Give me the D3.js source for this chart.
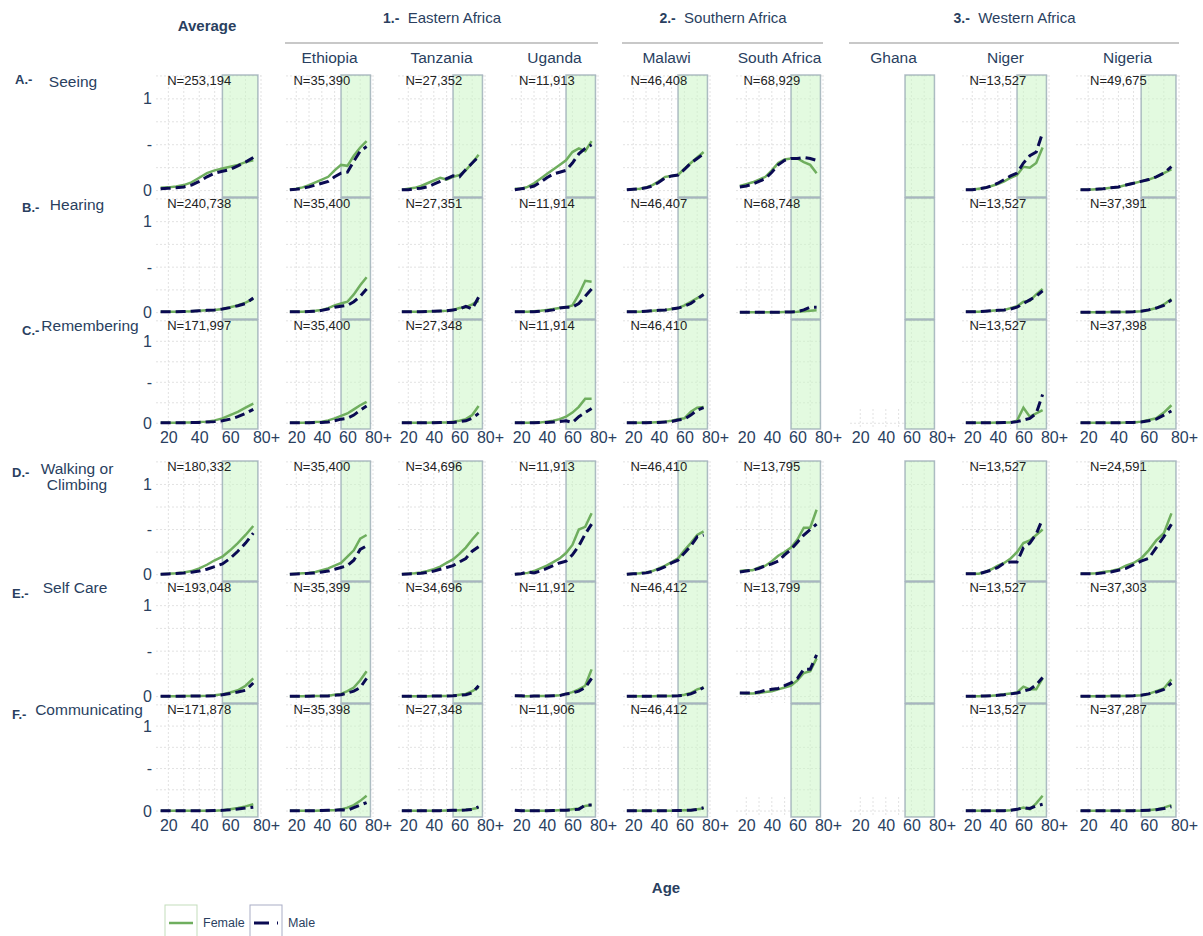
<!DOCTYPE html>
<html>
<head>
<meta charset="utf-8">
<script src="https://cdn.jsdelivr.net/npm/d3@7"></script>
<style>
  body { margin: 0; background: #fff; }
  text { font-family: "Liberation Sans", Arial, sans-serif; }
</style>
</head>
<body>
<div class="chart"></div>
<script>
// age group midpoints (15-19 ... 75+)
const ages = [15, 20, 25, 30, 35, 40, 45, 50, 55, 60, 65, 70, 75];
const columns = ["Average", "Ethiopia", "Tanzania", "Uganda", "Malawi", "South Africa", "Ghana", "Niger", "Nigeria"];
const regions = [
  { num: "1.-", name: "Eastern Africa", from: 1, to: 3 },
  { num: "2.-", name: "Southern Africa", from: 4, to: 5 },
  { num: "3.-", name: "Western Africa", from: 6, to: 8 }
];
const rowLetters = ["A.-", "B.-", "C.-", "D.-", "E.-", "F.-"];
const domains = [["Seeing"], ["Hearing"], ["Remembering"], ["Walking or", "Climbing"], ["Self Care"], ["Communicating"]];
const xTicks = [20, 40, 60, 80];
const yTicks = [0, 0.5, 1];

const sampleSizes = [
  ["253,194", "35,390", "27,352", "11,913", "46,408", "68,929", null, "13,527", "49,675"],
  ["240,738", "35,400", "27,351", "11,914", "46,407", "68,748", null, "13,527", "37,391"],
  ["171,997", "35,400", "27,348", "11,914", "46,410", null, null, "13,527", "37,398"],
  ["180,332", "35,400", "34,696", "11,913", "46,410", "13,795", null, "13,527", "24,591"],
  ["193,048", "35,399", "34,696", "11,912", "46,412", "13,799", null, "13,527", "37,303"],
  ["171,878", "35,398", "27,348", "11,906", "46,412", null, null, "13,527", "37,287"]
];

// share with difficulty, one array per column (null = no data)
const seeingFemale = [
  [0.03, 0.035, 0.045, 0.06, 0.09, 0.14, 0.19, 0.22, 0.24, 0.26, 0.28, 0.31, 0.33],
  [0.01, 0.02, 0.035, 0.06, 0.09, 0.12, 0.15, 0.22, 0.28, 0.27, 0.38, 0.47, 0.54],
  [0.01, 0.02, 0.03, 0.05, 0.08, 0.11, 0.14, 0.12, 0.15, 0.17, 0.22, 0.3, 0.39],
  [0.02, 0.02, 0.04, 0.08, 0.13, 0.18, 0.23, 0.28, 0.33, 0.42, 0.46, 0.43, 0.54],
  [0.01, 0.015, 0.02, 0.035, 0.06, 0.1, 0.15, 0.16, 0.17, 0.24, 0.3, 0.36, 0.42],
  [0.05, 0.07, 0.09, 0.12, 0.15, 0.22, 0.3, 0.34, 0.35, 0.35, 0.31, 0.28, 0.19],
  null,
  [0.01, 0.01, 0.02, 0.03, 0.05, 0.07, 0.1, 0.14, 0.17, 0.26, 0.25, 0.3, 0.47],
  [0.01, 0.01, 0.015, 0.02, 0.03, 0.04, 0.06, 0.08, 0.1, 0.12, 0.15, 0.19, 0.23]
];
const seeingMale = [
  [0.02, 0.025, 0.03, 0.04, 0.06, 0.1, 0.15, 0.19, 0.21, 0.23, 0.27, 0.31, 0.36],
  [0.01, 0.015, 0.025, 0.04, 0.06, 0.08, 0.1, 0.15, 0.19, 0.2, 0.32, 0.43, 0.48],
  [0.01, 0.01, 0.02, 0.025, 0.04, 0.07, 0.1, 0.13, 0.16, 0.15, 0.23, 0.3, 0.37],
  [0.01, 0.02, 0.03, 0.05, 0.09, 0.14, 0.18, 0.2, 0.22, 0.3, 0.4, 0.46, 0.5],
  [0.01, 0.015, 0.02, 0.03, 0.05, 0.09, 0.14, 0.16, 0.17, 0.23, 0.3, 0.35, 0.4],
  [0.04, 0.05, 0.07, 0.1, 0.13, 0.2, 0.28, 0.33, 0.35, 0.35, 0.36, 0.35, 0.33],
  null,
  [0.01, 0.01, 0.02, 0.03, 0.05, 0.08, 0.12, 0.16, 0.19, 0.3, 0.38, 0.42, 0.63],
  [0.01, 0.01, 0.015, 0.02, 0.03, 0.04, 0.06, 0.08, 0.1, 0.12, 0.15, 0.19, 0.26]
];
const hearingFemale = [
  [0.01, 0.01, 0.01, 0.012, 0.015, 0.02, 0.025, 0.03, 0.04, 0.06, 0.08, 0.11, 0.15],
  [0.01, 0.01, 0.01, 0.015, 0.02, 0.03, 0.05, 0.08, 0.1, 0.12, 0.2, 0.3, 0.39],
  [0.01, 0.01, 0.01, 0.01, 0.012, 0.015, 0.018, 0.02, 0.03, 0.05, 0.06, 0.09, 0.13],
  [0.01, 0.01, 0.01, 0.015, 0.02, 0.03, 0.04, 0.05, 0.06, 0.08, 0.2, 0.35, 0.34],
  [0.01, 0.01, 0.01, 0.015, 0.02, 0.025, 0.03, 0.04, 0.05, 0.08, 0.12, 0.16, 0.2],
  [0.005, 0.005, 0.005, 0.005, 0.005, 0.005, 0.005, 0.006, 0.008, 0.01, 0.015, 0.02, 0.025],
  null,
  [0.01, 0.01, 0.01, 0.015, 0.02, 0.025, 0.03, 0.05, 0.07, 0.12, 0.13, 0.2, 0.26],
  [0.005, 0.005, 0.005, 0.005, 0.006, 0.007, 0.008, 0.01, 0.015, 0.03, 0.05, 0.09, 0.15]
];
const hearingMale = [
  [0.01, 0.01, 0.01, 0.012, 0.015, 0.02, 0.025, 0.03, 0.04, 0.055, 0.075, 0.1, 0.16],
  [0.01, 0.01, 0.01, 0.012, 0.015, 0.025, 0.04, 0.06, 0.07, 0.08, 0.12, 0.18, 0.26],
  [0.01, 0.01, 0.01, 0.01, 0.012, 0.015, 0.018, 0.02, 0.03, 0.04, 0.07, 0.04, 0.17],
  [0.01, 0.01, 0.01, 0.01, 0.015, 0.02, 0.03, 0.05, 0.06, 0.06, 0.1, 0.18, 0.26],
  [0.01, 0.01, 0.01, 0.015, 0.02, 0.025, 0.03, 0.04, 0.05, 0.07, 0.1, 0.15, 0.2],
  [0.005, 0.005, 0.005, 0.005, 0.005, 0.005, 0.005, 0.006, 0.008, 0.01, 0.03, 0.06, 0.06],
  null,
  [0.01, 0.01, 0.01, 0.015, 0.02, 0.025, 0.03, 0.04, 0.06, 0.1, 0.14, 0.18, 0.24],
  [0.005, 0.005, 0.005, 0.005, 0.006, 0.007, 0.008, 0.01, 0.015, 0.03, 0.05, 0.08, 0.14]
];
const rememberingFemale = [
  [0.005, 0.005, 0.005, 0.008, 0.01, 0.015, 0.02, 0.035, 0.06, 0.1, 0.14, 0.19, 0.24],
  [0.005, 0.005, 0.005, 0.01, 0.015, 0.02, 0.035, 0.06, 0.09, 0.12, 0.17, 0.22, 0.26],
  [0.005, 0.005, 0.005, 0.005, 0.007, 0.008, 0.01, 0.01, 0.02, 0.03, 0.05, 0.1, 0.21],
  [0.005, 0.005, 0.005, 0.01, 0.01, 0.02, 0.03, 0.05, 0.08, 0.13, 0.2, 0.3, 0.3],
  [0.005, 0.005, 0.005, 0.008, 0.01, 0.015, 0.02, 0.03, 0.05, 0.06, 0.14, 0.19, 0.2],
  null,
  null,
  [0.005, 0.005, 0.005, 0.005, 0.007, 0.008, 0.01, 0.01, 0.03, 0.19, 0.08, 0.12, 0.16],
  [0.005, 0.005, 0.005, 0.005, 0.006, 0.007, 0.008, 0.01, 0.02, 0.04, 0.06, 0.13, 0.22]
];
const rememberingMale = [
  [0.005, 0.005, 0.005, 0.006, 0.008, 0.01, 0.015, 0.02, 0.03, 0.05, 0.08, 0.12, 0.17],
  [0.005, 0.005, 0.005, 0.006, 0.008, 0.01, 0.015, 0.03, 0.05, 0.06, 0.1, 0.16, 0.21],
  [0.005, 0.005, 0.005, 0.005, 0.006, 0.007, 0.008, 0.01, 0.01, 0.02, 0.03, 0.06, 0.12],
  [0.005, 0.005, 0.005, 0.006, 0.008, 0.01, 0.015, 0.02, 0.03, 0.01, 0.08, 0.13, 0.18],
  [0.005, 0.005, 0.005, 0.006, 0.008, 0.01, 0.015, 0.02, 0.04, 0.05, 0.1, 0.16, 0.19],
  null,
  null,
  [0.005, 0.005, 0.005, 0.005, 0.006, 0.007, 0.008, 0.01, 0.02, 0.04, 0.06, 0.12, 0.35],
  [0.005, 0.005, 0.005, 0.005, 0.006, 0.007, 0.008, 0.01, 0.015, 0.03, 0.05, 0.1, 0.15]
];
const walkingFemale = [
  [0.005, 0.01, 0.015, 0.025, 0.04, 0.07, 0.11, 0.16, 0.2, 0.27, 0.35, 0.44, 0.54],
  [0.005, 0.01, 0.015, 0.02, 0.03, 0.05, 0.07, 0.1, 0.13, 0.2, 0.27, 0.4, 0.44],
  [0.005, 0.01, 0.015, 0.025, 0.04, 0.06, 0.09, 0.13, 0.17, 0.23, 0.3, 0.39, 0.47],
  [0.005, 0.01, 0.02, 0.04, 0.07, 0.1, 0.14, 0.18, 0.24, 0.33, 0.5, 0.53, 0.68],
  [0.005, 0.01, 0.015, 0.025, 0.04, 0.07, 0.1, 0.14, 0.18, 0.27, 0.35, 0.44, 0.48],
  [0.04, 0.05, 0.05, 0.08, 0.1, 0.15, 0.21, 0.25, 0.3, 0.39, 0.52, 0.52, 0.72],
  null,
  [0.01, 0.01, 0.01, 0.03, 0.06, 0.1, 0.13, 0.18, 0.25, 0.35, 0.38, 0.44, 0.5],
  [0.01, 0.01, 0.015, 0.03, 0.04, 0.06, 0.1, 0.13, 0.18, 0.27, 0.38, 0.46, 0.68]
];
const walkingMale = [
  [0.005, 0.008, 0.012, 0.018, 0.028, 0.04, 0.06, 0.09, 0.12, 0.18, 0.26, 0.35, 0.46],
  [0.005, 0.008, 0.01, 0.015, 0.02, 0.03, 0.04, 0.06, 0.08, 0.1, 0.16, 0.28, 0.32],
  [0.005, 0.008, 0.01, 0.015, 0.025, 0.04, 0.06, 0.08, 0.1, 0.14, 0.18, 0.26, 0.31],
  [0.005, 0.01, 0.03, 0.02, 0.04, 0.07, 0.1, 0.13, 0.15, 0.22, 0.32, 0.45, 0.56],
  [0.005, 0.01, 0.012, 0.02, 0.035, 0.06, 0.09, 0.13, 0.16, 0.24, 0.32, 0.42, 0.44],
  [0.03, 0.04, 0.05, 0.07, 0.1, 0.12, 0.15, 0.22, 0.28, 0.36, 0.44, 0.5, 0.56],
  null,
  [0.01, 0.01, 0.01, 0.03, 0.05, 0.08, 0.13, 0.14, 0.14, 0.3, 0.35, 0.45, 0.62],
  [0.01, 0.01, 0.01, 0.02, 0.03, 0.05, 0.07, 0.11, 0.15, 0.18, 0.3, 0.42, 0.56]
];
const selfCareFemale = [
  [0.005, 0.005, 0.005, 0.006, 0.007, 0.008, 0.01, 0.015, 0.025, 0.045, 0.07, 0.12, 0.2],
  [0.005, 0.005, 0.005, 0.006, 0.007, 0.008, 0.01, 0.02, 0.03, 0.06, 0.1, 0.18, 0.28],
  [0.005, 0.005, 0.005, 0.005, 0.005, 0.006, 0.007, 0.008, 0.01, 0.02, 0.03, 0.06, 0.1],
  [0.01, 0.005, 0.005, 0.006, 0.007, 0.008, 0.01, 0.015, 0.03, 0.05, 0.08, 0.12, 0.3],
  [0.005, 0.005, 0.005, 0.005, 0.005, 0.006, 0.007, 0.008, 0.01, 0.02, 0.04, 0.08, 0.1],
  [0.04, 0.035, 0.035, 0.04, 0.05, 0.06, 0.08, 0.1, 0.12, 0.18, 0.26, 0.28, 0.42],
  null,
  [0.005, 0.005, 0.005, 0.008, 0.01, 0.015, 0.025, 0.035, 0.045, 0.11, 0.08, 0.08, 0.2],
  [0.005, 0.005, 0.005, 0.005, 0.006, 0.007, 0.008, 0.01, 0.015, 0.03, 0.06, 0.09, 0.19]
];
const selfCareMale = [
  [0.005, 0.005, 0.005, 0.005, 0.006, 0.007, 0.008, 0.01, 0.02, 0.035, 0.05, 0.07, 0.15],
  [0.005, 0.005, 0.005, 0.005, 0.006, 0.007, 0.008, 0.015, 0.02, 0.04, 0.06, 0.1, 0.2],
  [0.005, 0.005, 0.005, 0.005, 0.005, 0.006, 0.007, 0.008, 0.01, 0.015, 0.02, 0.04, 0.12],
  [0.01, 0.01, 0.005, 0.006, 0.007, 0.008, 0.009, 0.01, 0.03, 0.04, 0.06, 0.1, 0.2],
  [0.005, 0.005, 0.005, 0.005, 0.005, 0.006, 0.007, 0.008, 0.01, 0.015, 0.03, 0.06, 0.1],
  [0.04, 0.04, 0.04, 0.05, 0.07, 0.08, 0.09, 0.12, 0.15, 0.2, 0.3, 0.3, 0.46],
  null,
  [0.005, 0.005, 0.005, 0.008, 0.01, 0.015, 0.02, 0.03, 0.04, 0.06, 0.08, 0.13, 0.21],
  [0.005, 0.005, 0.005, 0.005, 0.006, 0.007, 0.008, 0.01, 0.015, 0.03, 0.05, 0.08, 0.15]
];
const communicatingFemale = [
  [0.005, 0.005, 0.005, 0.005, 0.005, 0.005, 0.005, 0.005, 0.01, 0.02, 0.035, 0.055, 0.08],
  [0.005, 0.005, 0.005, 0.005, 0.005, 0.006, 0.008, 0.01, 0.02, 0.04, 0.07, 0.12, 0.18],
  [0.005, 0.005, 0.005, 0.005, 0.005, 0.005, 0.005, 0.006, 0.008, 0.01, 0.015, 0.025, 0.04],
  [0.01, 0.005, 0.005, 0.005, 0.005, 0.005, 0.006, 0.008, 0.01, 0.02, 0.03, 0.06, 0.07],
  [0.005, 0.005, 0.005, 0.005, 0.005, 0.005, 0.005, 0.005, 0.006, 0.008, 0.01, 0.02, 0.03],
  null,
  null,
  [0.005, 0.005, 0.005, 0.005, 0.005, 0.005, 0.005, 0.01, 0.02, 0.04, 0.02, 0.09, 0.18],
  [0.005, 0.005, 0.005, 0.005, 0.005, 0.005, 0.005, 0.005, 0.005, 0.01, 0.02, 0.04, 0.07]
];
const communicatingMale = [
  [0.005, 0.005, 0.005, 0.005, 0.005, 0.005, 0.005, 0.006, 0.008, 0.015, 0.025, 0.035, 0.045],
  [0.005, 0.005, 0.005, 0.005, 0.005, 0.006, 0.008, 0.01, 0.015, 0.01, 0.04, 0.07, 0.1],
  [0.005, 0.005, 0.005, 0.005, 0.005, 0.005, 0.005, 0.006, 0.008, 0.01, 0.012, 0.02, 0.05],
  [0.01, 0.005, 0.005, 0.005, 0.005, 0.005, 0.006, 0.008, 0.01, 0.015, 0.02, 0.07, 0.07],
  [0.005, 0.005, 0.005, 0.005, 0.005, 0.005, 0.005, 0.005, 0.006, 0.008, 0.01, 0.02, 0.04],
  null,
  null,
  [0.005, 0.005, 0.005, 0.005, 0.005, 0.005, 0.005, 0.01, 0.02, 0.04, 0.03, 0.06, 0.08],
  [0.005, 0.005, 0.005, 0.005, 0.005, 0.005, 0.005, 0.005, 0.006, 0.01, 0.015, 0.03, 0.05]
];

const femaleRows = [seeingFemale, hearingFemale, rememberingFemale, walkingFemale, selfCareFemale, communicatingFemale];
const maleRows = [seeingMale, hearingMale, rememberingMale, walkingMale, selfCareMale, communicatingMale];

// layout
const textColor = "#2a3f5f";
const femaleColor = "#6fae5e";
const maleColor = "#0a0a52";
const colLeft = [156, 286, 398, 511, 623, 736, 850, 962, 1076];
const colWidth = [105, 87, 87, 87, 87, 87, 87, 87, 103];
const rowBox = [[75, 197], [198, 319], [320, 429], [461, 581], [582, 703], [704, 817]];
const axisRows = [2, 5];
// empty panels that still show a strip of grid at the bottom
const gridStubs = [[2, 6], [5, 5], [5, 6]];

const svg = d3.select(".chart")
  .append("svg")
  .attr("width", 1203)
  .attr("height", 936);

const xScales = columns.map((c, i) => d3.scaleLinear().domain([12, 80]).range([colLeft[i], colLeft[i] + colWidth[i]]));
const yScales = rowBox.map(r => d3.scaleLinear().domain([-0.07, 1.26]).range([r[1], r[0]]));

function drawGrid(g, x, y, x0, x1, y0, y1) {
  const xs = d3.range(20, 81, 10).filter(v => x(v) >= x0 && x(v) <= x1);
  const ys = d3.range(0, 1.3, 0.25).filter(v => y(v) >= y0 && y(v) <= y1);
  g.selectAll(null).data(xs).enter().append("line")
    .attr("x1", d => x(d)).attr("x2", d => x(d))
    .attr("y1", y0).attr("y2", y1);
  g.selectAll(null).data(ys).enter().append("line")
    .attr("x1", x0).attr("x2", x1)
    .attr("y1", d => y(d)).attr("y2", d => y(d));
  g.selectAll("line")
    .attr("stroke", "#e2e2e2")
    .attr("stroke-width", 1)
    .attr("stroke-dasharray", "2,2");
}

const line = (x, y) => d3.line()
  .x((d, i) => x(ages[i]))
  .y(d => y(d));

rowBox.forEach((r, ri) => {
  const y = yScales[ri];
  columns.forEach((c, ci) => {
    const x = xScales[ci];
    const g = svg.append("g");
    const fem = femaleRows[ri][ci];
    const mal = maleRows[ri][ci];
    const hasData = fem != null;
    const gx0 = x(55), gx1 = x(78);

    const grid = g.append("g");
    if (hasData) {
      drawGrid(grid, x, y, x(12), x(80), r[0], r[1]);
    } else {
      drawGrid(grid, x, y, gx0, gx1, r[0], r[1]);
      if (gridStubs.some(s => s[0] === ri && s[1] === ci)) {
        drawGrid(g.append("g"), x, y, x(12), gx0, r[1] - 20, r[1]);
      }
    }

    // older-age shading
    g.append("rect")
      .attr("x", gx0)
      .attr("y", r[0])
      .attr("width", gx1 - gx0)
      .attr("height", r[1] - r[0])
      .attr("fill", "#ccf5c6")
      .attr("fill-opacity", 0.55)
      .attr("stroke", "#8e9fae")
      .attr("stroke-opacity", 0.7)
      .attr("stroke-width", 1.5);

    if (hasData) {
      g.append("path")
        .attr("d", line(x, y)(fem))
        .attr("fill", "none")
        .attr("stroke", femaleColor)
        .attr("stroke-width", 2.5);
      g.append("path")
        .attr("d", line(x, y)(mal))
        .attr("fill", "none")
        .attr("stroke", maleColor)
        .attr("stroke-width", 3)
        .attr("stroke-dasharray", "10,5");
    }

    if (sampleSizes[ri][ci]) {
      g.append("text")
        .attr("x", x(40))
        .attr("y", r[0] + 10)
        .attr("text-anchor", "middle")
        .attr("font-size", 13)
        .attr("fill", "#222")
        .text("N=" + sampleSizes[ri][ci]);
    }

    if (ci === 0) {
      const ya = g.append("g")
        .attr("transform", `translate(${x(12)},0)`)
        .call(d3.axisLeft(y).tickValues(yTicks).tickSize(0).tickPadding(4)
          .tickFormat(d => d === 0.5 ? "-" : d3.format("d")(d)));
      ya.select(".domain").remove();
      ya.selectAll("text").attr("font-size", 16).attr("fill", textColor)
        .attr("font-family", "Liberation Sans, Arial, sans-serif");
    }

    if (axisRows.includes(ri)) {
      const xa = g.append("g")
        .attr("transform", `translate(0,${r[1]})`)
        .call(d3.axisBottom(x).tickValues(xTicks).tickSize(0).tickPadding(3)
          .tickFormat(d => d === 80 ? "80+" : d));
      xa.select(".domain").remove();
      xa.selectAll("text").attr("font-size", 16).attr("fill", textColor)
        .attr("font-family", "Liberation Sans, Arial, sans-serif")
        .attr("dx", d => d === 80 ? 5 : 0);
    }
  });
});

// column headers
columns.forEach((c, ci) => {
  const cx = colLeft[ci] + colWidth[ci] / 2;
  if (ci === 0) {
    svg.append("text")
      .attr("x", 207).attr("y", 31)
      .attr("text-anchor", "middle")
      .attr("font-size", 15).attr("font-weight", "bold")
      .attr("fill", textColor)
      .text(c);
  } else {
    svg.append("text")
      .attr("x", cx).attr("y", 63)
      .attr("text-anchor", "middle")
      .attr("font-size", 15.5)
      .attr("fill", textColor)
      .text(c);
  }
});

regions.forEach(reg => {
  const x0 = colLeft[reg.from];
  const x1 = colLeft[reg.to] + colWidth[reg.to];
  svg.append("line")
    .attr("x1", x0 - 1).attr("x2", x1)
    .attr("y1", 43).attr("y2", 43)
    .attr("stroke", "#c8c8c8").attr("stroke-width", 2);
  const t = svg.append("text")
    .attr("x", (x0 + x1) / 2).attr("y", 23)
    .attr("text-anchor", "middle")
    .attr("font-size", 15)
    .attr("fill", textColor);
  t.append("tspan").attr("font-weight", "bold").attr("font-size", 14).text(reg.num);
  t.append("tspan").text("\u00a0 " + reg.name);
});

// row labels
const letterPos = [[15, 84], [22, 212], [22, 335], [12, 477], [12, 598], [12, 719]];
const namePos = [[73, 87], [77, 210], [90, 331], [77, 474], [75, 593], [89, 715]];
rowLetters.forEach((l, i) => {
  svg.append("text")
    .attr("x", letterPos[i][0]).attr("y", letterPos[i][1])
    .attr("font-size", 13).attr("font-weight", "bold")
    .attr("fill", textColor)
    .text(l);
  const t = svg.append("text")
    .attr("x", namePos[i][0]).attr("y", namePos[i][1])
    .attr("text-anchor", "middle")
    .attr("font-size", 15.5)
    .attr("fill", textColor);
  domains[i].forEach((s, k) => {
    t.append("tspan").attr("x", namePos[i][0]).attr("dy", k === 0 ? 0 : 16).text(s);
  });
});

// x axis title
svg.append("text")
  .attr("x", 666).attr("y", 893)
  .attr("text-anchor", "middle")
  .attr("font-size", 15).attr("font-weight", "bold")
  .attr("fill", textColor)
  .text("Age");

// legend
const legend = svg.append("g");
const items = [
  { label: "Female", color: femaleColor, dash: null, box: "#c3ddbb", x: 165, w: 32 },
  { label: "Male", color: maleColor, dash: "15,8,2,8", box: "#a9adc6", x: 250, w: 32 }
];
items.forEach(it => {
  legend.append("rect")
    .attr("x", it.x).attr("y", 905)
    .attr("width", it.w).attr("height", 40)
    .attr("fill", "none")
    .attr("stroke", it.box);
  legend.append("line")
    .attr("x1", it.x + 4).attr("x2", it.x + it.w - 4)
    .attr("y1", 923).attr("y2", 923)
    .attr("stroke", it.color)
    .attr("stroke-width", it.dash ? 3 : 2.5)
    .attr("stroke-dasharray", it.dash);
  legend.append("text")
    .attr("x", it.x + it.w + 6).attr("y", 927)
    .attr("font-size", 12.5)
    .attr("fill", textColor)
    .text(it.label);
});
</script>
</body>
</html>
